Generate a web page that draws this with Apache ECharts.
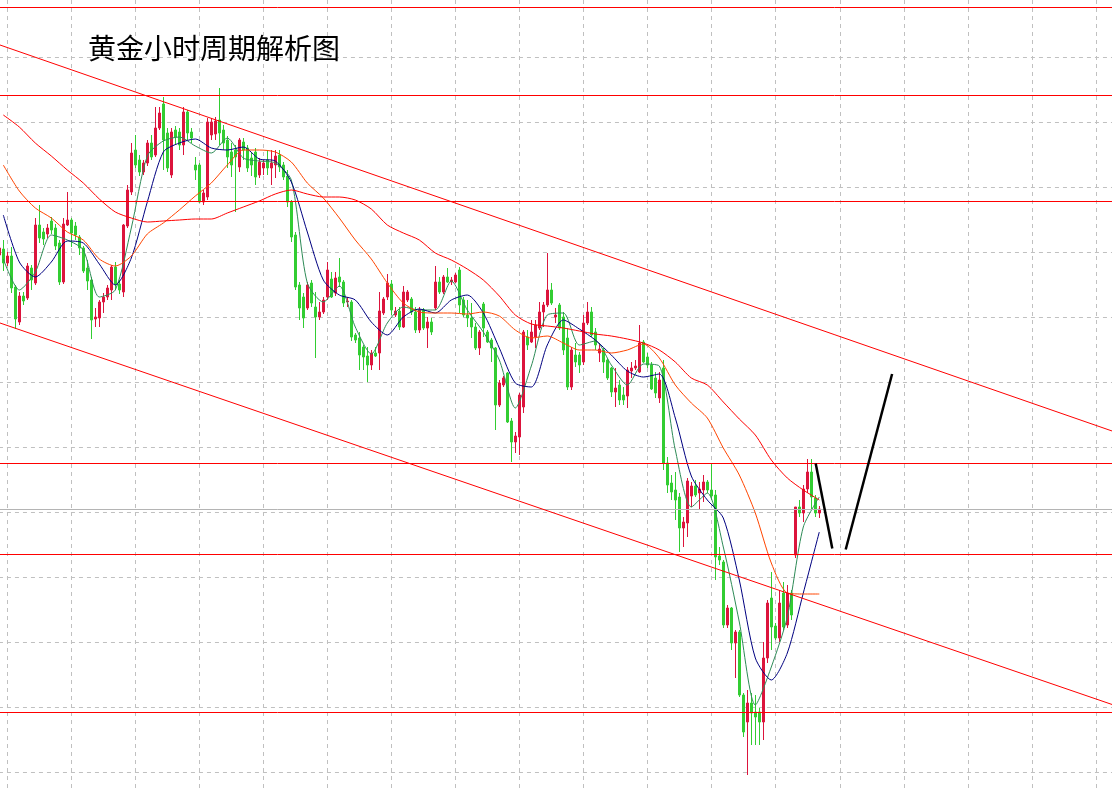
<!DOCTYPE html>
<html>
<head>
<meta charset="utf-8">
<title>黄金小时周期解析图</title>
<script src="https://cdn.jsdelivr.net/npm/echarts/dist/echarts.min.js"></script>
<style>
  html, body { margin: 0; padding: 0; background: #fff; }
  #main { width: 1112px; height: 792px; }
</style>
</head>
<body>
<div id="main"></div>
<script>
// hourly gold candles, oldest first (first one is cut by the left edge)
const opens = [
  2374.5,
  2375.1, 2373.7, 2374.4, 2371.3, 2367.8, 2370.4, 2370.2, 2373.2, 2371.7, 2377.5,
  2376.8, 2376.6, 2377.9, 2377.2, 2375.7, 2371.8, 2377.5, 2378.0, 2377.4, 2376.3,
  2375.2, 2373.2, 2372.0, 2368.1, 2368.2, 2369.8, 2370.3, 2371.0, 2373.3, 2371.6,
  2370.8, 2377.4, 2380.8, 2385.0, 2384.0, 2382.8, 2383.7, 2385.7, 2384.5, 2387.2,
  2389.6, 2386.7, 2382.5, 2387.0, 2386.8, 2385.5, 2388.8, 2386.8, 2383.5, 2383.5,
  2379.8, 2380.3, 2386.5, 2386.6, 2388.0, 2387.0, 2386.0, 2384.8, 2385.0, 2383.3,
  2385.8, 2385.2, 2384.2, 2384.8, 2382.5, 2383.2, 2384.0, 2383.2, 2383.5, 2384.5,
  2383.5, 2382.4, 2379.8, 2376.5, 2371.5, 2370.3, 2369.2, 2371.7, 2369.3, 2368.3,
  2368.8, 2370.3, 2372.1, 2370.7, 2372.3, 2371.8, 2369.8, 2369.8, 2366.5, 2366.2,
  2365.3, 2364.4, 2363.5, 2364.7, 2364.7, 2368.7, 2370.3, 2371.6, 2368.5, 2368.9,
  2367.3, 2370.0, 2370.1, 2368.8, 2367.0, 2369.0, 2367.2, 2367.8, 2369.2, 2371.8,
  2370.8, 2372.3, 2371.8, 2371.8, 2373.0, 2370.0, 2368.5, 2368.2, 2367.3, 2365.2,
  2369.6, 2366.8, 2366.0, 2365.2, 2359.5, 2361.5, 2362.7, 2357.9, 2355.8, 2356.3,
  2359.3, 2366.3, 2365.8, 2366.3, 2367.2, 2368.8, 2369.5, 2371.0, 2368.3, 2369.5,
  2368.3, 2366.2, 2361.3, 2364.5, 2364.5, 2363.8, 2367.7, 2368.8, 2366.8, 2364.7,
  2365.0, 2364.0, 2363.2, 2360.8, 2361.5, 2360.5, 2360.4, 2362.9, 2363.2, 2362.8,
  2365.8, 2364.3, 2363.5, 2362.2, 2360.2, 2363.2, 2353.7, 2351.7, 2351.0, 2350.3,
  2347.2, 2347.7, 2350.4, 2351.4, 2350.7, 2351.0, 2351.8, 2351.0, 2350.5, 2344.4,
  2343.8, 2337.5, 2339.2, 2335.7, 2336.8, 2330.5, 2327.8, 2329.7, 2328.8, 2328.8,
  2327.8, 2334.2, 2340.2, 2337.4, 2336.2, 2340.7, 2337.5, 2340.7, 2344.5, 2349.3,
  2348.7, 2351.1, 2352.8, 2350.2, 2348.7
];
const closes = [
  2375.2,
  2373.7, 2374.4, 2371.2, 2368.1, 2370.4, 2369.9, 2373.4, 2372.0, 2377.5, 2376.2,
  2376.1, 2377.2, 2377.0, 2375.4, 2371.8, 2377.6, 2378.0, 2376.7, 2376.5, 2375.2,
  2372.9, 2371.9, 2368.0, 2368.3, 2369.8, 2370.3, 2371.2, 2373.3, 2371.6, 2371.0,
  2377.5, 2381.0, 2384.7, 2383.5, 2382.8, 2383.7, 2385.7, 2384.3, 2387.2, 2388.7,
  2386.0, 2383.2, 2386.8, 2386.3, 2385.5, 2388.8, 2386.7, 2386.2, 2383.0, 2379.8,
  2380.7, 2387.8, 2387.8, 2387.9, 2386.7, 2385.7, 2384.3, 2383.5, 2384.3, 2386.0,
  2385.0, 2383.2, 2383.5, 2382.3, 2383.8, 2383.7, 2383.2, 2383.7, 2384.4, 2383.3,
  2382.3, 2379.8, 2376.3, 2371.3, 2369.2, 2368.2, 2371.5, 2369.7, 2368.3, 2368.8,
  2370.0, 2373.0, 2370.3, 2372.2, 2371.8, 2369.7, 2369.9, 2366.3, 2366.0, 2364.5,
  2364.3, 2363.5, 2364.7, 2364.4, 2368.9, 2370.1, 2371.7, 2369.0, 2368.9, 2367.3,
  2370.8, 2370.8, 2368.8, 2367.0, 2369.0, 2367.2, 2367.8, 2366.8, 2371.8, 2370.8,
  2372.3, 2371.8, 2372.0, 2372.5, 2369.5, 2368.5, 2368.2, 2367.3, 2365.2, 2366.8,
  2367.2, 2365.8, 2365.2, 2359.5, 2361.7, 2362.2, 2357.8, 2355.8, 2356.4, 2360.5,
  2366.8, 2365.5, 2366.8, 2367.5, 2368.8, 2369.5, 2371.0, 2369.7, 2368.5, 2367.2,
  2365.0, 2361.3, 2365.0, 2363.8, 2363.5, 2367.7, 2368.8, 2366.5, 2365.5, 2365.1,
  2363.8, 2362.2, 2360.8, 2361.2, 2360.0, 2360.0, 2363.0, 2363.2, 2363.4, 2365.7,
  2363.8, 2363.5, 2361.1, 2360.7, 2362.0, 2353.7, 2351.5, 2350.8, 2350.0, 2347.2,
  2347.8, 2351.9, 2351.4, 2350.5, 2351.1, 2351.8, 2351.0, 2350.4, 2344.3, 2344.0,
  2337.5, 2339.2, 2335.7, 2336.8, 2330.5, 2326.8, 2329.7, 2328.7, 2328.3, 2327.8,
  2334.2, 2339.7, 2337.3, 2336.2, 2339.7, 2337.3, 2340.7, 2338.5, 2349.3, 2348.7,
  2351.1, 2352.8, 2350.3, 2348.7, 2349.1
];
const lows = [
  2374.2,
  2372.9, 2373.4, 2370.7, 2367.1, 2367.5, 2369.5, 2370.0, 2371.0, 2371.5, 2375.7,
  2375.5, 2376.2, 2376.6, 2375.0, 2371.5, 2371.6, 2377.4, 2375.3, 2376.0, 2374.5,
  2372.7, 2371.0, 2366.1, 2367.3, 2367.3, 2368.7, 2370.0, 2370.0, 2371.0, 2370.6,
  2370.3, 2377.2, 2380.5, 2383.2, 2382.4, 2382.5, 2383.4, 2384.0, 2384.3, 2387.0,
  2383.0, 2382.8, 2382.2, 2385.5, 2385.0, 2384.5, 2386.0, 2385.7, 2382.0, 2379.7,
  2379.5, 2380.0, 2386.0, 2386.0, 2385.5, 2385.0, 2383.2, 2382.3, 2378.8, 2382.8,
  2384.0, 2382.8, 2382.4, 2381.5, 2382.2, 2382.5, 2382.5, 2381.5, 2382.2, 2382.8,
  2382.0, 2379.3, 2375.8, 2371.0, 2368.0, 2367.2, 2369.0, 2369.3, 2364.2, 2368.0,
  2368.6, 2370.0, 2370.2, 2370.4, 2371.3, 2369.3, 2369.3, 2365.9, 2365.7, 2363.0,
  2363.0, 2361.8, 2363.0, 2364.3, 2363.0, 2368.5, 2370.0, 2368.5, 2368.3, 2367.0,
  2367.2, 2369.8, 2368.5, 2366.7, 2366.7, 2367.0, 2365.2, 2366.5, 2369.0, 2370.6,
  2370.6, 2371.7, 2371.5, 2371.7, 2368.7, 2368.3, 2367.3, 2366.2, 2365.0, 2364.5,
  2366.3, 2365.7, 2363.8, 2357.0, 2359.3, 2361.3, 2357.7, 2353.8, 2354.7, 2354.5,
  2358.7, 2365.0, 2365.7, 2365.2, 2367.0, 2367.3, 2369.3, 2369.5, 2367.7, 2367.0,
  2364.5, 2361.0, 2361.0, 2363.3, 2362.7, 2363.5, 2367.5, 2366.3, 2365.0, 2363.8,
  2362.7, 2362.0, 2360.3, 2359.3, 2359.5, 2359.5, 2359.2, 2362.2, 2363.0, 2362.7,
  2363.7, 2363.2, 2361.0, 2360.2, 2359.7, 2353.0, 2350.7, 2350.0, 2348.0, 2344.8,
  2345.3, 2346.3, 2349.3, 2350.3, 2349.0, 2349.8, 2350.7, 2350.0, 2342.0, 2343.5,
  2337.2, 2337.2, 2335.0, 2332.2, 2330.3, 2326.3, 2322.5, 2325.5, 2325.5, 2325.5,
  2326.0, 2333.7, 2335.0, 2336.0, 2335.8, 2337.0, 2337.2, 2338.0, 2344.2, 2348.3,
  2347.8, 2350.7, 2349.0, 2348.3, 2348.2
];
const highs = [
  2375.5,
  2376.0, 2374.8, 2375.3, 2371.5, 2370.8, 2370.8, 2373.7, 2373.5, 2378.2, 2379.5,
  2377.2, 2377.6, 2378.3, 2377.6, 2376.0, 2378.2, 2380.8, 2378.2, 2377.8, 2376.5,
  2375.4, 2374.0, 2372.3, 2369.2, 2370.0, 2370.7, 2371.5, 2373.5, 2373.8, 2372.0,
  2377.6, 2381.5, 2385.7, 2386.5, 2384.5, 2384.0, 2386.0, 2386.5, 2389.3, 2389.3,
  2390.3, 2387.2, 2387.2, 2387.4, 2387.2, 2389.3, 2389.0, 2387.2, 2384.3, 2383.7,
  2381.0, 2388.2, 2388.2, 2388.3, 2391.2, 2387.5, 2386.4, 2385.7, 2385.5, 2386.2,
  2386.2, 2385.5, 2384.8, 2385.2, 2384.2, 2384.0, 2385.0, 2385.0, 2385.0, 2385.0,
  2383.8, 2383.0, 2380.0, 2376.8, 2371.8, 2370.7, 2371.8, 2372.0, 2370.8, 2369.8,
  2370.3, 2373.8, 2372.8, 2372.8, 2374.2, 2372.0, 2370.3, 2370.0, 2366.7, 2366.8,
  2365.5, 2365.3, 2365.0, 2365.3, 2370.8, 2370.3, 2372.6, 2372.0, 2369.3, 2369.3,
  2371.4, 2371.0, 2370.3, 2369.3, 2369.3, 2369.2, 2368.3, 2368.2, 2373.4, 2372.3,
  2372.5, 2373.2, 2372.3, 2372.7, 2373.3, 2370.3, 2370.0, 2369.7, 2367.7, 2367.0,
  2369.8, 2367.0, 2366.2, 2365.3, 2362.0, 2362.4, 2362.8, 2358.2, 2356.8, 2360.7,
  2367.0, 2367.0, 2368.0, 2368.0, 2369.8, 2369.8, 2374.7, 2371.7, 2369.2, 2369.7,
  2368.8, 2367.2, 2365.3, 2365.7, 2364.8, 2368.5, 2369.8, 2369.3, 2367.2, 2365.7,
  2365.2, 2364.2, 2363.3, 2363.2, 2362.0, 2361.3, 2363.3, 2363.8, 2364.0, 2367.5,
  2366.0, 2364.7, 2363.8, 2362.8, 2362.8, 2364.0, 2354.3, 2352.5, 2352.8, 2350.7,
  2348.3, 2352.2, 2351.8, 2352.0, 2351.8, 2352.5, 2352.0, 2353.7, 2351.0, 2345.3,
  2344.0, 2339.5, 2339.3, 2337.0, 2337.0, 2330.7, 2331.0, 2330.7, 2330.5, 2329.2,
  2335.8, 2340.0, 2342.8, 2337.7, 2341.0, 2341.8, 2341.5, 2341.0, 2349.3, 2350.0,
  2351.5, 2354.1, 2354.1, 2350.5, 2349.4
];

// moving averages, read every 4th bar
const maPos = [1, 5, 9, 13, 17, 21, 25, 29, 33, 37, 41, 45, 49, 53, 57, 61, 65, 69, 73, 77,
  81, 85, 89, 93, 97, 101, 105, 109, 113, 117, 121, 125, 129, 133, 137, 141, 145, 149, 153, 157,
  161, 165, 169, 173, 177, 181, 185, 189, 193, 197, 201, 205];
const maFast = [2374.1, 2371.0, 2372.8, 2376.5, 2376.0, 2375.0, 2370.3, 2371.0, 2377.2, 2384.4,
  2385.9, 2386.3, 2385.4, 2384.7, 2386.2, 2384.2, 2383.9, 2383.7, 2382.0, 2371.7,
  2369.8, 2371.4, 2367.3, 2364.6, 2367.7, 2369.3, 2369.0, 2369.0, 2371.9, 2369.0,
  2366.8, 2364.0, 2359.2, 2363.4, 2368.5, 2368.7, 2365.5, 2365.9, 2363.5, 2361.5,
  2363.6, 2363.4, 2355.0, 2349.3, 2350.7, 2345.3, 2337.8, 2329.5, 2333.3, 2338.3,
  2347.3, 2350.3];
const maMid = [2378.5, 2373.8, 2372.3, 2373.8, 2375.9, 2375.7, 2373.6, 2371.5, 2374.2, 2379.8,
  2384.8, 2385.7, 2386.1, 2385.2, 2385.0, 2385.3, 2384.1, 2383.9, 2381.8, 2376.8,
  2372.0, 2370.5, 2370.0, 2367.8, 2366.5, 2368.3, 2369.1, 2368.7, 2370.0, 2370.5,
  2368.7, 2365.2, 2361.7, 2361.3, 2365.5, 2368.0, 2367.1, 2366.0, 2364.5, 2362.9,
  2362.3, 2362.6, 2358.2, 2352.4, 2350.0, 2348.2, 2342.0, 2334.2, 2332.0, 2334.7,
  2340.7, 2346.8];
const maSlow = [2383.5, 2380.9, 2379.2, 2378.2, 2376.8, 2376.0, 2374.1, 2373.4, 2374.4, 2376.6,
  2377.7, 2379.0, 2380.4, 2381.7, 2383.5, 2385.0, 2385.0, 2384.8, 2383.8, 2381.7,
  2380.2, 2378.2, 2376.0, 2374.1, 2371.7, 2369.7, 2368.8, 2368.7, 2368.7, 2368.6,
  2368.8, 2368.4, 2367.0, 2366.2, 2366.4, 2365.7, 2365.0, 2365.0, 2364.7, 2365.0,
  2365.6, 2364.2, 2361.5, 2359.7, 2358.2, 2355.2, 2352.5, 2348.7, 2343.7, 2340.7,
  2340.6, 2340.6];
const maLong = [2388.5, 2387.3, 2385.7, 2384.4, 2383.0, 2381.7, 2380.1, 2378.8, 2378.2, 2377.8,
  2377.9, 2378.0, 2378.1, 2378.1, 2378.7, 2379.3, 2379.9, 2380.6, 2381.0, 2380.6,
  2380.3, 2380.3, 2380.0, 2379.1, 2377.5, 2376.7, 2376.0, 2374.7, 2374.0, 2373.1,
  2372.0, 2370.4, 2368.5, 2367.6, 2367.4, 2367.2, 2366.9, 2366.6, 2366.4, 2366.1,
  2365.7, 2365.0, 2363.8, 2362.2, 2361.5, 2359.8, 2358.1, 2356.5, 2354.0, 2352.2,
  2351.0, 2350.0];

// drawn levels and trend lines
const redLevels = [2399.25, 2390.45, 2379.85, 2353.65, 2344.55, 2328.75];
const grayLevels = [2349.05];
const channelTop = [[0.175, 2395.5], [278.2, 2356.9]];
const channelBottom = [[0.175, 2367.7], [278.2, 2329.55]];
const arrowDown = [[204.1, 2353.65], [208.25, 2345.15]];
const arrowUp = [[211.6, 2345.05], [223.2, 2362.6]];

const SLOTS = 280;
const categories = Array.from({ length: SLOTS }, (_, k) => "H" + k);
const candles = opens.map((o, k) => [o, closes[k], lows[k], highs[k]]);
const pairs = (vals) => vals.map((v, k) => [maPos[k], v]);

const chart = echarts.init(document.getElementById("main"), null, { renderer: "canvas" });

const maLine = (name, vals, color) => ({
  name: name,
  type: "line",
  xAxisIndex: 1,
  yAxisIndex: 0,
  data: pairs(vals),
  symbol: "none",
  smooth: 0.25,
  silent: true,
  lineStyle: { color: color, width: 1 },
  z: 3,
});

const drawn = (name, pts, color, width) => ({
  name: name,
  type: "line",
  xAxisIndex: 1,
  yAxisIndex: 0,
  data: pts,
  symbol: "none",
  silent: true,
  lineStyle: { color: color, width: width },
  z: 4,
});

// the dashed chart grid: one cell is 64.06 px wide and 65 px high,
// the grid box reaches past the canvas so the lines run edge to edge
const gridLine = { show: true, lineStyle: { color: "#c0c0c0", width: 1, type: [4, 4] } };

const option = {
  animation: false,
  backgroundColor: "#ffffff",
  title: {
    text: "黄金小时周期解析图",
    left: 88,
    top: 34,
    padding: 0,
    textStyle: {
      fontFamily: "Noto Sans CJK SC",
      fontSize: 28,
      fontWeight: "normal",
      color: "#000000",
    },
  },
  grid: [
    { left: -2.7, top: 0, width: SLOTS * 4, height: 792, outerBoundsMode: "none" },
    { left: -57.06, top: -8, width: 19 * 64.06, height: 13 * 65, outerBoundsMode: "none" },
  ],
  xAxis: [
    { type: "category", gridIndex: 0, data: categories, boundaryGap: true, show: false },
    { type: "value", gridIndex: 0, min: -0.5, max: SLOTS - 0.5, show: false },
    {
      type: "value", gridIndex: 1, min: 0, max: 19, interval: 1,
      axisLine: { show: false }, axisTick: { show: false }, axisLabel: { show: false },
      splitLine: gridLine,
    },
  ],
  yAxis: [
    { type: "value", gridIndex: 0, min: 2320.8, max: 2400, show: false },
    {
      type: "value", gridIndex: 1, min: 0, max: 13, interval: 1,
      axisLine: { show: false }, axisTick: { show: false }, axisLabel: { show: false },
      splitLine: gridLine,
    },
  ],
  series: [
    {
      name: "XAUUSD H1",
      type: "candlestick",
      xAxisIndex: 0,
      yAxisIndex: 0,
      data: candles,
      barWidth: 2,
      silent: true,
      itemStyle: {
        color: "#dc143c",
        color0: "#32cd32",
        borderColor: "#dc143c",
        borderColor0: "#32cd32",
        borderWidth: 1,
      },
      markLine: {
        silent: true,
        symbol: "none",
        label: { show: false },
        lineStyle: { color: "#ff0000", width: 1, type: "solid" },
        data: redLevels.map((v) => ({ yAxis: v }))
          .concat(grayLevels.map((v) => ({ yAxis: v, lineStyle: { color: "#b4b4b4" } }))),
        z: 4,
      },
    },
    maLine("MA fast", maFast, "#2e8b57"),
    maLine("MA mid", maMid, "#000080"),
    maLine("MA slow", maSlow, "#ff4500"),
    maLine("MA long", maLong, "#ff0000"),
    drawn("channel top", channelTop, "#ff0000", 1),
    drawn("channel bottom", channelBottom, "#ff0000", 1),
    drawn("path down", arrowDown, "#000000", 2.5),
    drawn("path up", arrowUp, "#000000", 2.5),
  ],
};

chart.setOption(option);
</script>
</body>
</html>
